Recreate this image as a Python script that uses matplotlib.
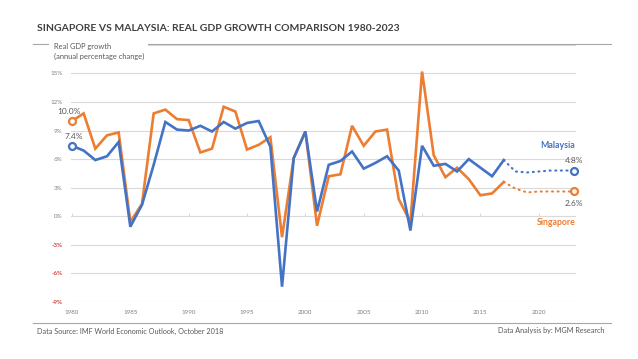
import matplotlib
matplotlib.use("Agg")
import matplotlib.pyplot as plt

plt.rcParams['font.family'] = ['Lato', 'DejaVu Sans']

# IMF WEO Oct 2018, real GDP growth (%)
years = list(range(1980, 2024))
malaysia = [7.4, 6.9, 5.9, 6.3, 7.8, -1.1, 1.2, 5.4, 9.9, 9.1,
            9.0, 9.5, 8.9, 9.9, 9.2, 9.8, 10.0, 7.3, -7.4, 6.1,
            8.9, 0.5, 5.4, 5.8, 6.8, 5.0, 5.6, 6.3, 4.8, -1.5,
            7.4, 5.3, 5.5, 4.7, 6.0, 5.1, 4.2, 5.9, 4.7, 4.6,
            4.7, 4.8, 4.8, 4.8]
singapore = [10.0, 10.8, 7.1, 8.5, 8.8, -0.6, 1.3, 10.8, 11.2, 10.2,
             10.1, 6.7, 7.1, 11.5, 11.0, 7.0, 7.5, 8.3, -2.2, 6.1,
             8.9, -1.0, 4.2, 4.4, 9.5, 7.4, 8.9, 9.1, 1.8, -0.6,
             15.2, 6.4, 4.1, 5.1, 3.9, 2.2, 2.4, 3.6, 2.9, 2.5,
             2.6, 2.6, 2.6, 2.6]
last_actual = 2017
yticks = [-9, -6, -3, 0, 3, 6, 9, 12, 15, 18]
xticks = [1980, 1985, 1990, 1995, 2000, 2005, 2010, 2015, 2020]

BLUE = "#4472C4"
ORANGE = "#ED7D31"
GRID = "#d9d9d9"

fig = plt.figure(figsize=(6.38, 3.59), dpi=100)
ax = fig.add_axes([0.111, 0.159, 0.792, 0.716])

k = years.index(last_actual)
for vals, col in [(singapore, ORANGE), (malaysia, BLUE)]:
    ax.plot(years[:k + 1], vals[:k + 1], color=col, lw=1.9, solid_joinstyle='miter', zorder=3)
    ax.plot(years[k:], vals[k:], color=col, lw=1.5, ls=(0, (0.5, 2.2)),
            dash_capstyle='round', zorder=3)
    ax.plot([years[0], years[-1]], [vals[0], vals[-1]], 'o', ms=5, mfc='white',
            mec=col, mew=1.6, ls='none', zorder=4, clip_on=False)

# end labels
lab_kw = dict(textcoords='offset points', fontsize=6, color='#595959')
ax.annotate(f"{singapore[0]:.1f}%", (years[0], singapore[0]), xytext=(-2, 4),
            ha='center', va='bottom', **lab_kw)
ax.annotate(f"{malaysia[0]:.1f}%", (years[0], malaysia[0]), xytext=(1, 4),
            ha='center', va='bottom', **lab_kw)
ax.annotate(f"{malaysia[-1]:.1f}%", (years[-1], malaysia[-1]), xytext=(7, 5),
            ha='right', va='bottom', **lab_kw)
ax.annotate(f"{singapore[-1]:.1f}%", (years[-1], singapore[-1]), xytext=(7, -6),
            ha='right', va='top', **lab_kw)
ax.annotate("Malaysia", (years[-1], malaysia[-1]), xytext=(1, 15),
            textcoords='offset points', fontsize=6.3, color=BLUE, fontweight='bold',
            ha='right', va='bottom')
ax.annotate("Singapore", (years[-1], singapore[-1]), xytext=(1, -19),
            textcoords='offset points', fontsize=6.3, color=ORANGE, fontweight='bold',
            ha='right', va='top')

ax.set_xlim(1979.9, 2023.2)
ax.set_ylim(-9, 18)
ax.set_yticks(yticks)
ax.set_yticklabels([f"{v}%" if v < 18 else "" for v in yticks], fontsize=4.5)
for lab, v in zip(ax.get_yticklabels(), yticks):
    lab.set_color('#C00000' if v < 0 else '#808080')
ax.set_xticks(xticks)
ax.set_xticklabels([str(x) for x in xticks], fontsize=4.5, color='#808080')
ax.tick_params(length=0, pad=6)
ax.grid(axis='y', color=GRID, lw=0.8)
for s in ax.spines.values():
    s.set_visible(False)

# small category ticks on the zero line
sec = ax.secondary_xaxis(1 / 3)
sec.set_xticks(xticks)
sec.set_xticklabels([])
sec.tick_params(direction='in', length=2.5, color=GRID, width=0.8)
sec.spines['bottom'].set_visible(False)
sec.spines['top'].set_visible(False)

# y-axis title with white box covering top gridline
fig.text(0.084, 0.856, "Real GDP growth\n(annual percentage change)", fontsize=5.4,
         color='#595959', va='center', ha='left', linespacing=1.5,
         bbox=dict(facecolor='white', edgecolor='none', pad=3))

fig.text(0.058, 0.922, "SINGAPORE VS MALAYSIA: REAL GDP GROWTH COMPARISON 1980-2023",
         fontsize=7.5, fontweight='bold', color='#404040', va='center', ha='left')
fig.add_artist(plt.Line2D([0.052, 0.957], [0.877, 0.877], color='#a6a6a6', lw=0.8))
fig.add_artist(plt.Line2D([0.052, 0.957], [0.1, 0.1], color='#a6a6a6', lw=0.8))
fig.text(0.058, 0.078, "Data Source: IMF World Economic Outlook, October 2018",
         fontsize=5.2, color='#595959', va='center', ha='left')
fig.text(0.948, 0.078, "Data Analysis by: MGM Research",
         fontsize=5.2, color='#595959', va='center', ha='right')

fig.savefig("out.png", dpi=100)
